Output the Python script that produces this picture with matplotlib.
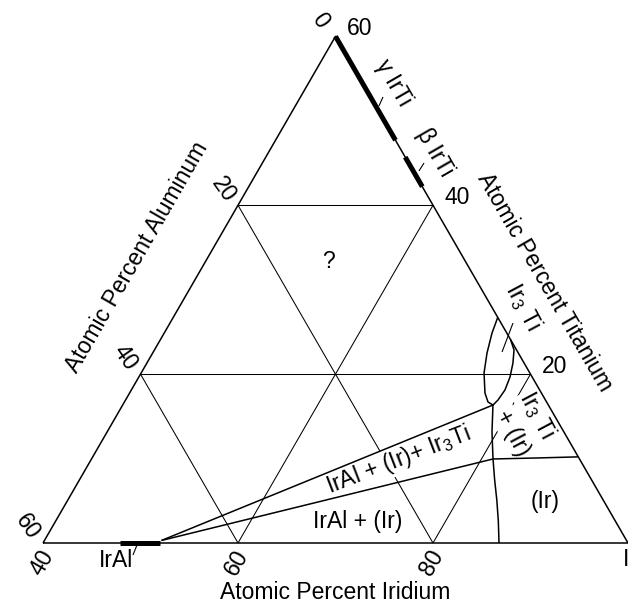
import numpy as np
import matplotlib
matplotlib.use('Agg')
import matplotlib.pyplot as plt

plt.rcParams['font.family'] = ['Liberation Sans', 'DejaVu Sans']
plt.rcParams['mathtext.fontset'] = 'custom'
plt.rcParams['mathtext.rm'] = 'Liberation Sans'
plt.rcParams['mathtext.it'] = 'Liberation Sans'
plt.rcParams['mathtext.default'] = 'regular'

S3 = np.sqrt(3) / 2


def tern(ir, ti):
    ir = np.asarray(ir, float)
    ti = np.asarray(ti, float)
    return ir + ti / 2, ti * S3


# ---------------- data (atomic percent Ir, Ti) ----------------
ti_grid = [20, 40]
al_grid = [20, 40]
ir_grid = [60, 80]
ir_tick_vals = [40, 60, 80]
al_tick_vals = [0, 20, 40, 60]
ti_tick_vals = [20, 40, 60]

iral_ir = [47.9, 52.0]            # IrAl on Ir-Al edge
gamma_ti = [47.7, 60.0]           # gamma IrTi on Ir-Ti edge
beta_ti = [42.2, 45.7]            # beta IrTi on Ir-Ti edge

ir3ti_ir = [73.28, 73.62, 74.29, 75.17, 76.45, 77.29, 77.98, 78.20, 78.32, 78.07, 77.54, 76.88, 75.90]
ir3ti_ti = [26.72, 24.87, 22.50, 20.13, 17.76, 16.70, 16.34, 16.93, 18.12, 19.66, 21.32, 22.86, 24.10]

tie_upper_ir = [52.0, 77.98]
tie_upper_ti = [0.3, 16.34]
tie_lower_ir = [52.0, 81.18]
tie_lower_ti = [0.3, 9.95]

b_ir3ti_ir = [77.98, 79.48, 81.18]
b_ir3ti_ti = [16.34, 13.14, 9.95]
b_irlow_ir = [81.18, 82.6, 84.0, 85.4, 86.77]
b_irlow_ti = [9.95, 7.45, 5.09, 2.6, 0.0]
b_irright_ir = [81.18, 85.63, 89.8]
b_irright_ti = [9.95, 10.07, 10.2]

# ---------------- figure ----------------
fig = plt.figure(figsize=(6.28, 6.07), dpi=100)
ax = fig.add_axes([0, 0, 1, 1])
ax.set_xlim(35.59, 100.0)
ax.set_ylim(-6.564, 55.69)
ax.axis('off')

K = 'black'
GRID_LW = 0.75
EDGE_LW = 1.1
BND_LW = 1.1


def line(ir, ti, lw=BND_LW, z=3, **kw):
    x, y = tern(ir, ti)
    ax.plot(x, y, color=K, lw=lw, zorder=z, solid_capstyle='butt', clip_on=False, **kw)


# triangle edges
line([40, 100, 40, 40], [0, 0, 60, 0], lw=EDGE_LW, z=3)

# grid
for c in ti_grid:
    line([40, 100 - c], [c, c], lw=GRID_LW, z=1)
for c in al_grid:
    line([40, 100 - c], [60 - c, 0], lw=GRID_LW, z=1)
for c in ir_grid:
    line([c, c], [0, 100 - c], lw=GRID_LW, z=1)

# compounds on edges
line(iral_ir, [0, 0], lw=3.6, z=4)
line([100 - t for t in gamma_ti], gamma_ti, lw=3.6, z=4)
line([100 - t for t in beta_ti], beta_ti, lw=3.6, z=4)

# Ir3Ti field
line(ir3ti_ir, ir3ti_ti)

# tie lines and boundaries
line(tie_upper_ir, tie_upper_ti)
line(tie_lower_ir, tie_lower_ti)
line(b_ir3ti_ir, b_ir3ti_ti)
line(b_irlow_ir, b_irlow_ti)
line(b_irright_ir, b_irright_ti)

# leaders
line([49.94, 49.76], [-1.42, -0.24], lw=0.8)
line([48.46, 48.58], [52.82, 51.76], lw=0.8)
line([56.58, 56.53], [45.0, 44.06], lw=0.8)
line([75.18, 75.77], [26.05, 22.62], lw=0.8)

FS = 16.5
white = dict(facecolor='white', edgecolor='none', pad=1.0)


def label(txt, ir, ti, rot=0, fs=FS, box=False):
    x, y = tern(ir, ti)
    ax.text(x, y, txt, rotation=rot, ha='center', va='center', fontsize=fs,
            rotation_mode='anchor', zorder=2, bbox=white if box else None)


# phase labels
label('?', 52.6, 33.3)
label('(Ir)', 89.06, 4.86)
label('IrAl + (Ir)', 71.07, 2.49, box=True)
label(r'IrAl + (Ir)+ Ir$_3$Ti', 71.5, 9.83, rot=21, box=True)
label(r'Ir$_3$ Ti', 83.09, 15.16, rot=-62, box=True)
label('+ (Ir)', 81.69, 13.03, rot=-62, box=True)
label(r'Ir$_3$ Ti', 75.26, 27.95, rot=-62)
label('γ IrTi', 48.66, 54.48, rot=-60)
label('β IrTi', 57.1, 46.19, rot=-60)
label('IrAl', 48.56, -2.13)

# tick labels
for v in ir_tick_vals:
    x, y = tern(v, 0)
    ax.annotate(str(v), (x, y), xytext=(-1, -20), textcoords='offset pixels',
                ha='center', va='center', rotation=60, fontsize=FS)
for v in al_tick_vals:
    x, y = tern(40, 60 - v)
    ax.annotate(str(v), (x, y), xytext=(-15, 16), textcoords='offset pixels',
                ha='center', va='center', rotation=-55, fontsize=FS)
for v in ti_tick_vals:
    x, y = tern(100 - v, v)
    ax.annotate(str(v), (x, y), xytext=(24, 8), textcoords='offset pixels',
                ha='center', va='center', rotation=0, fontsize=FS)
x, y = tern(100, 0)
ax.annotate('Ir', (x, y), xytext=(-5, -17), textcoords='offset pixels',
            ha='left', va='center', fontsize=FS)

# axis titles
x, y = tern(69.95 - (-5.03 / S3) / 2, -5.03 / S3)
ax.text(x, y, 'Atomic Percent Iridium', ha='center', va='center', fontsize=FS)
ax.text(*tern(32.7, 33.87), 'Atomic Percent Aluminum', ha='center', va='center',
        rotation=60, rotation_mode='anchor', fontsize=FS)
ax.text(*tern(76.03, 30.91), 'Atomic Percent Titanium', ha='center', va='center',
        rotation=-60, rotation_mode='anchor', fontsize=FS)

fig.savefig('out.png', dpi=100)
